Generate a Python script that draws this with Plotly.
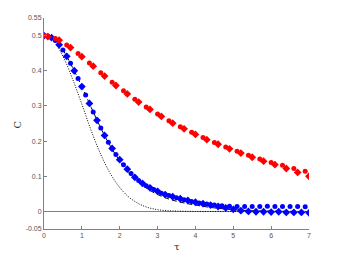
import plotly.graph_objects as go

# ---- data ----
red_circ_t = [0.0, 0.3, 0.6, 0.9, 1.2, 1.5, 1.8, 2.1, 2.4, 2.7, 3.0, 3.3, 3.6, 3.9,
              4.2, 4.5, 4.8, 5.1, 5.4, 5.7, 6.0, 6.3, 6.6, 6.9]
red_circ_c = [0.500, 0.492, 0.473, 0.449, 0.422, 0.394, 0.367, 0.343, 0.319, 0.297,
              0.277, 0.258, 0.241, 0.225, 0.210, 0.196, 0.183, 0.171, 0.160, 0.149,
              0.139, 0.131, 0.122, 0.114]
red_diam_t = [0.1, 0.4, 0.7, 1.0, 1.3, 1.6, 1.9, 2.2, 2.5, 2.8, 3.1, 3.4, 3.7, 4.0,
              4.3, 4.6, 4.9, 5.2, 5.5, 5.8, 6.1, 6.4, 6.7, 7.0]
red_diam_c = [0.497, 0.487, 0.466, 0.440, 0.413, 0.385, 0.358, 0.334, 0.311, 0.290,
              0.270, 0.251, 0.235, 0.219, 0.204, 0.191, 0.178, 0.166, 0.154, 0.143,
              0.133, 0.122, 0.111, 0.100]

blue_circ_t = [0.1, 0.3, 0.5, 0.7, 0.9, 1.1, 1.3, 1.5, 1.7, 1.9, 2.1, 2.3, 2.5, 2.7,
               2.9, 3.1, 3.3, 3.5, 3.7, 3.9, 4.1, 4.3, 4.5, 4.7, 4.9, 5.1, 5.3, 5.5,
               5.7, 5.9, 6.1, 6.3, 6.5, 6.7, 6.9]
blue_circ_c = [0.499, 0.486, 0.459, 0.421, 0.378, 0.331, 0.283, 0.237, 0.197, 0.162,
               0.133, 0.108, 0.088, 0.073, 0.062, 0.052, 0.045, 0.039, 0.033, 0.028,
               0.024, 0.021, 0.018, 0.016, 0.015, 0.014, 0.014, 0.014, 0.014, 0.015,
               0.014, 0.014, 0.014, 0.014, 0.013]
blue_diam_t = [0.0, 0.2, 0.4, 0.6, 0.8, 1.0, 1.2, 1.4, 1.6, 1.8, 2.0, 2.2, 2.4, 2.6,
               2.8, 3.0, 3.2, 3.4, 3.6, 3.8, 4.0, 4.2, 4.4, 4.6, 4.8, 5.0, 5.2, 5.4,
               5.6, 5.8, 6.0, 6.2, 6.4, 6.6, 6.8, 7.0]
blue_diam_c = [0.500, 0.494, 0.474, 0.441, 0.400, 0.355, 0.307, 0.259, 0.216, 0.179,
               0.147, 0.120, 0.097, 0.080, 0.067, 0.057, 0.048, 0.042, 0.036, 0.031,
               0.026, 0.022, 0.018, 0.014, 0.010, 0.006, 0.002, 0.000, -0.001, -0.001,
               -0.002, -0.001, -0.003, -0.003, -0.003, -0.004]

dash_t = [0.0, 0.25, 0.5, 0.75, 1.0, 1.25, 1.5, 1.75, 2.0, 2.25, 2.5, 2.75, 3.0,
          3.25, 3.5, 3.75, 4.0, 4.5, 5.0, 5.5, 6.0, 7.0]
dash_c = [0.500, 0.491, 0.459, 0.410, 0.355, 0.295, 0.237, 0.186, 0.144, 0.110,
          0.083, 0.063, 0.048, 0.037, 0.029, 0.023, 0.018, 0.010, 0.005, 0.002,
          0.001, 0.000]

dot_t = [0.0, 0.25, 0.5, 0.75, 1.0, 1.25, 1.5, 1.75, 2.0, 2.25, 2.5, 2.75, 3.0,
         3.25, 3.5, 4.0, 5.0, 6.0, 7.0]
dot_c = [0.500, 0.485, 0.441, 0.378, 0.305, 0.229, 0.162, 0.108, 0.068, 0.040,
         0.022, 0.011, 0.005, 0.002, 0.001, 0.000, 0.000, 0.000, 0.000]

x_ticks = [0, 1, 2, 3, 4, 5, 6, 7]
y_ticks = [-0.05, 0, 0.1, 0.2, 0.3, 0.4, 0.5, 0.55]
y_tick_text = ["-0.05", "0", "0.1", "0.2", "0.3", "0.4", "0.5", "0.55"]

BLUE = "#0000ff"
RED = "#ff0000"

fig = go.Figure()
fig.add_trace(go.Scatter(x=dot_t, y=dot_c, mode="lines", line_shape="spline",
                         line=dict(color="black", width=1, dash="1px,1.5px")))
fig.add_trace(go.Scatter(x=dash_t, y=dash_c, mode="lines", line_shape="spline",
                         line=dict(color="black", width=1, dash="5px,3px")))
fig.add_trace(go.Scatter(x=blue_diam_t, y=blue_diam_c, mode="markers",
                         marker=dict(symbol="diamond", size=6, color=BLUE, line=dict(width=0))))
fig.add_trace(go.Scatter(x=blue_circ_t, y=blue_circ_c, mode="markers",
                         marker=dict(symbol="circle", size=5, color=BLUE, line=dict(width=0))))
fig.add_trace(go.Scatter(x=red_diam_t, y=red_diam_c, mode="markers",
                         marker=dict(symbol="diamond", size=6, color=RED, line=dict(width=0))))
fig.add_trace(go.Scatter(x=red_circ_t, y=red_circ_c, mode="markers",
                         marker=dict(symbol="circle", size=5, color=RED, line=dict(width=0))))

font = dict(family="Liberation Sans, Arial, sans-serif", size=7, color="#555555")
label_font = dict(family="DejaVu Serif, serif", size=10, color="#333333")
fig.update_layout(
    width=334, height=249,
    margin=dict(l=36, r=33, t=10, b=28, autoexpand=False),
    paper_bgcolor="white", plot_bgcolor="white",
    showlegend=False,
    font=font,
    xaxis=dict(range=[0, 7], tickvals=x_ticks, ticks="inside", ticklen=3,
               tickcolor="#808080", showline=True, linecolor="#808080", linewidth=1,
               showgrid=False, zeroline=False, tickfont=font, automargin=False),
    yaxis=dict(range=[-0.05, 0.55], tickvals=y_ticks, ticktext=y_tick_text,
               ticks="inside", ticklen=3, tickcolor="#808080", showline=True,
               linecolor="#808080", linewidth=1, showgrid=False,
               zeroline=True, zerolinecolor="#808080", zerolinewidth=1,
               tickfont=font, automargin=False),
    annotations=[
        dict(text="τ", xref="paper", yref="paper", x=0.5, y=-0.085,
             xanchor="center", yanchor="middle", showarrow=False, font=label_font),
        dict(text="C", xref="paper", yref="paper", x=-0.098, y=0.495,
             xanchor="center", yanchor="middle", showarrow=False, textangle=-90,
             font=label_font),
    ],
)

fig.write_html("out.html")
